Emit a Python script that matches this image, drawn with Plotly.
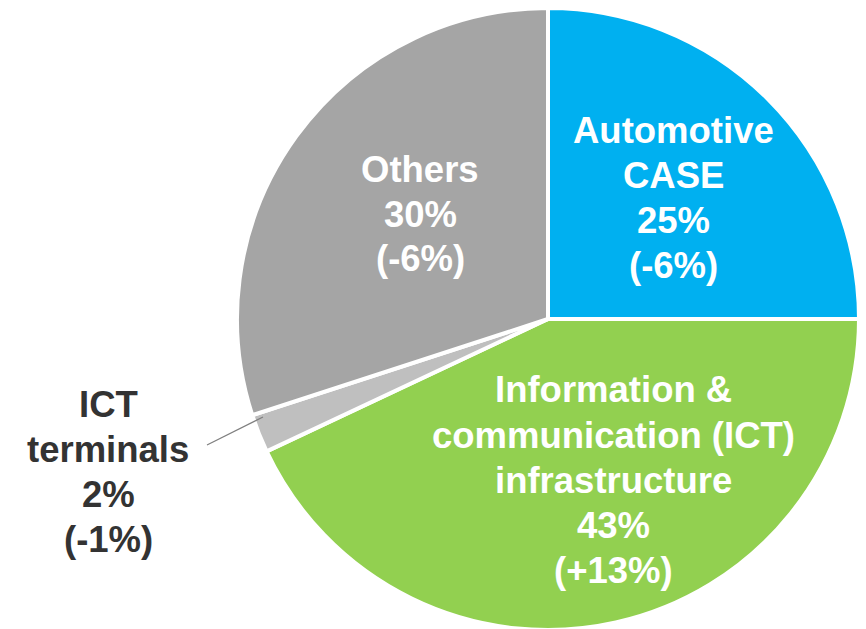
import plotly.graph_objects as go

W, H = 866, 629
# the page body adds an 8px offset to the figure
OFF = 8

segments = ["Automotive CASE", "Information & communication (ICT) infrastructure",
            "ICT terminals", "Others"]
shares = [25, 43, 2, 30]
changes = ["-6%", "+13%", "-1%", "-6%"]
label_lines = [
    ["Automotive", "CASE"],
    ["Information &", "communication (ICT)", "infrastructure"],
    ["ICT", "terminals"],
    ["Others"],
]
colors = ["#00B0F0", "#92D050", "#BFBFBF", "#A5A5A5"]
text_colors = ["white", "white", "#333333", "white"]
# label block centres in screen pixels
label_pos = [(673, 198), (613, 480), (108, 472), (420, 214)]
line_gap = 45
font_size = 36.5


def to_paper(px, py):
    return (px - OFF) / W, (H - (py - OFF)) / H


fig = go.Figure()

diam = 622
dom_w = diam / W
cx = (548 - OFF) / W
fig.add_trace(
    go.Pie(
        labels=segments,
        values=shares,
        sort=False,
        direction="clockwise",
        rotation=0,
        marker=dict(colors=colors, line=dict(color="white", width=4)),
        textinfo="none",
        hoverinfo="label+percent",
        showlegend=False,
        domain=dict(x=[cx - dom_w / 2, cx + dom_w / 2], y=[1 - diam / H, 1]),
    )
)

for lines, share, chg, col, (px, py) in zip(label_lines, shares, changes,
                                            text_colors, label_pos):
    all_lines = lines + [f"{share}%", f"({chg})"]
    n = len(all_lines)
    for i, t in enumerate(all_lines):
        ly = py + (i - (n - 1) / 2) * line_gap
        x, y = to_paper(px, ly)
        fig.add_annotation(
            x=x, y=y, xref="paper", yref="paper", text=f"<b>{t}</b>",
            showarrow=False,
            font=dict(family="Liberation Sans, Arial", size=font_size, color=col),
            xanchor="center", yanchor="middle", align="center",
        )

# leader line for ICT terminals
x0, y0 = to_paper(207, 445)
x1, y1 = to_paper(263, 417)
fig.add_shape(type="line", xref="paper", yref="paper", x0=x0, y0=y0, x1=x1, y1=y1,
              line=dict(color="#7F7F7F", width=1.2))

fig.update_layout(
    width=W, height=H,
    margin=dict(l=0, r=0, t=0, b=0),
    paper_bgcolor="white",
    plot_bgcolor="white",
    font=dict(family="Liberation Sans, Arial"),
)

fig.write_html("out.html")
